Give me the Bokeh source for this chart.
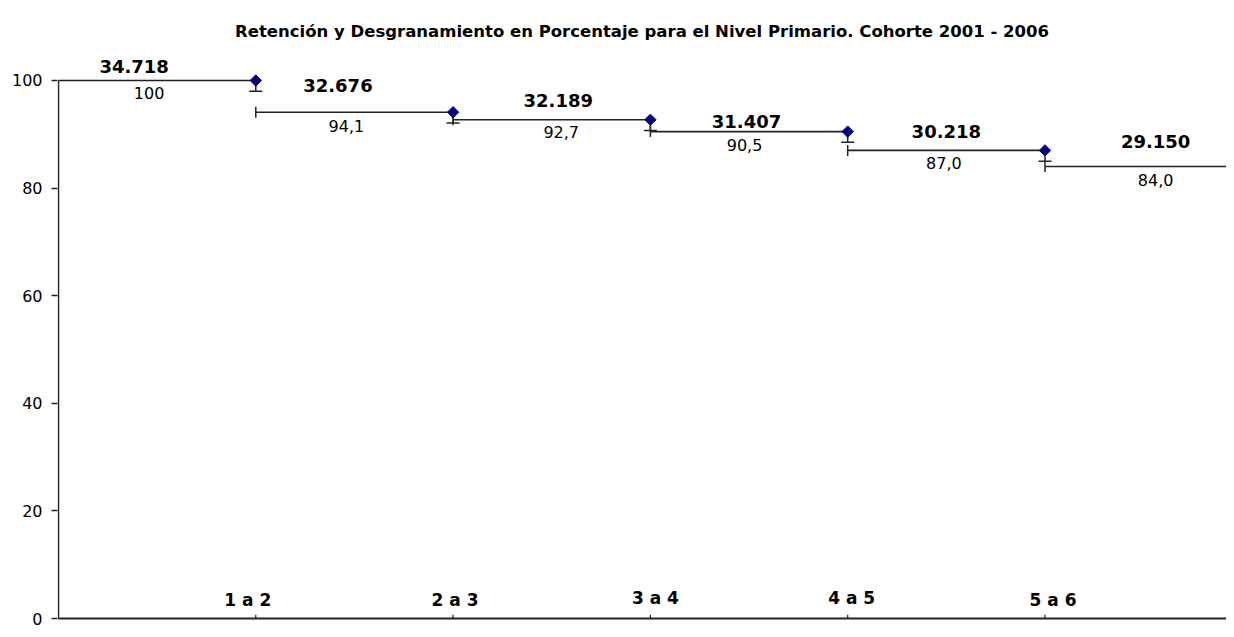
import math
from bokeh.plotting import figure
from bokeh.models import Range1d, FixedTicker, ColumnDataSource
from bokeh.core.properties import value
from bokeh.embed import file_html
from bokeh.resources import INLINE

# ---------------- data ----------------
title_text = "Retención y Desgranamiento en Porcentaje para el Nivel Primario. Cohorte 2001 - 2006"
transitions = ["1 a 2", "2 a 3", "3 a 4", "4 a 5", "5 a 6"]
retention = [100, 94.1, 92.7, 90.5, 87.0, 84.0]
enrolment = [34718, 32676, 32189, 31407, 30218, 29150]
y_ticks = [0, 20, 40, 60, 80, 100]
error_len = 2.0

# ---------------- layout / style ----------------
W, H = 1226, 629
X_START, X_END = -0.005, 5.92
Y_START, Y_END = -2.04, 106.5
FONT = "DejaVu Sans"
INK = "#222222"
count_dx = [-23, -16.5, 6.5, -2.5, 0, 12]
count_dy = [-14, -27, -19, -10, -19, -25]
ret_dx = [-8, -8, 9.5, -4.5, -2.5, 12]
ret_dy = [13, 14, 12, 13, 13, 13]
cat_dx = [-8, 2, 5, 4, 8]
cat_dy = [-18.5, -19, -20.5, -20.5, -19]


def fmt_ret(v):
    return "100" if v >= 100 else f"{v:.1f}".replace(".", ",")


def fmt_count(n):
    return f"{n:,}".replace(",", ".")


p = figure(width=W, height=H, output_backend="svg", toolbar_location=None,
           x_range=Range1d(X_START, X_END), y_range=Range1d(Y_START, Y_END),
           x_axis_location=None, min_border_left=57, min_border_right=0,
           min_border_bottom=0, min_border_top=45, title=title_text)
p.title.align = "center"
p.title.text_font = FONT
p.title.text_font_size = "16.5px"
p.title.text_font_style = "bold"
p.title.text_color = "#000000"
p.grid.visible = False
p.outline_line_color = None
p.background_fill_color = "white"
p.border_fill_color = "white"

ya = p.yaxis[0]
ya.ticker = FixedTicker(ticks=y_ticks)
ya.axis_line_color = None
ya.major_tick_in = 0
ya.major_tick_out = 6
ya.major_tick_line_color = INK
ya.major_tick_line_width = 1.5
ya.minor_tick_line_color = None
ya.major_label_standoff = 9
ya.major_label_text_font = FONT
ya.major_label_text_font_size = "16px"
ya.major_label_text_color = "#000000"

n = len(retention)
xs_start = list(range(n))
xs_end = [i + 1 for i in range(n)]
mids = [i + 0.5 for i in range(n)]

# axes lines drawn in data space
p.segment(x0=[0], y0=[0], x1=[0], y1=[y_ticks[-1]], line_color=INK, line_width=1.5)
p.segment(x0=[0], y0=[0], x1=[n], y1=[0], line_color=INK, line_width=2)
tick_x = list(range(1, len(transitions) + 1))
p.segment(x0=tick_x, y0=[0] * len(tick_x), x1=tick_x, y1=[0.7] * len(tick_x),
          line_color=INK, line_width=1.2)

# step lines
p.segment(x0=xs_start, y0=retention, x1=xs_end, y1=retention, line_color=INK, line_width=1.6)

# error bars from diamonds
ex = list(range(1, n))
ey = retention[:-1]
p.segment(x0=ex, y0=ey, x1=ex, y1=[v - error_len for v in ey], line_color=INK, line_width=1.5)
p.scatter(x=ex, y=[v - error_len for v in ey], marker="dash", size=13, line_color=INK, line_width=1.5)
# start ticks of each new level
p.scatter(x=ex, y=retention[1:], marker="dash", angle=math.pi / 2, size=11,
          line_color=INK, line_width=1.5)
# diamonds
p.scatter(x=ex, y=ey, marker="square", angle=math.pi / 4, size=8,
          fill_color="#000080", line_color="#000080")

# labels
src = ColumnDataSource(dict(
    x=mids, y=retention,
    count=[fmt_count(c) for c in enrolment],
    ret=[fmt_ret(v) for v in retention],
    cdx=count_dx, cdy=count_dy, rdx=ret_dx, rdy=ret_dy,
))
p.text(x="x", y="y", text="count", source=src, x_offset="cdx", y_offset="cdy",
       text_font=value(FONT), text_font_size="18px", text_font_style="bold",
       text_align="center", text_baseline="middle", text_color="#000000")
p.text(x="x", y="y", text="ret", source=src, x_offset="rdx", y_offset="rdy",
       text_font=value(FONT), text_font_size="16px",
       text_align="center", text_baseline="middle", text_color="#000000")

csrc = ColumnDataSource(dict(x=tick_x, y=[0] * len(tick_x), t=transitions, dx=cat_dx, dy=cat_dy))
p.text(x="x", y="y", text="t", source=csrc, x_offset="dx", y_offset="dy",
       text_font=value(FONT), text_font_size="17px", text_font_style="bold",
       text_align="center", text_baseline="middle", text_color="#000000")

open("out.html", "w").write(file_html(p, INLINE))
